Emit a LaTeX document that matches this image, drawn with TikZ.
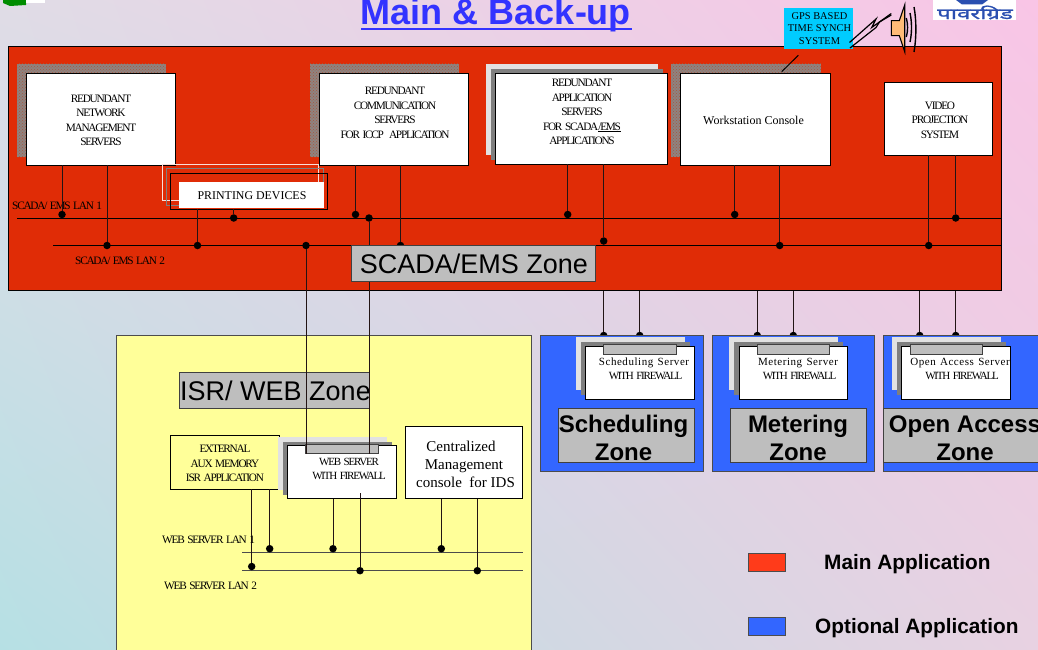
\documentclass[tikz,border=0pt]{standalone}
\usepackage{fontspec}
\usetikzlibrary{patterns,shadings}
\setmainfont{Liberation Serif}
\newfontfamily\tightf[LetterSpace=-11,WordSpace=1.6]{Liberation Serif}
\newfontfamily\loosef[LetterSpace=5,WordSpace=1.3]{Liberation Serif}
\newfontfamily\armf{Liberation Sans}
\newfontfamily\devaf[Script=Devanagari,FakeBold=1.2]{Noto Sans}
\definecolor{redz}{HTML}{E02C06}
\definecolor{bluez}{HTML}{3366FF}
\definecolor{yelz}{HTML}{FFFF99}
\definecolor{greyl}{HTML}{BEBEBE}
\definecolor{shadl}{HTML}{E2E2E2}
\definecolor{shadd}{HTML}{7F7F7F}
\definecolor{wirec}{HTML}{221414}
\definecolor{hatchb}{HTML}{8E8380}
\definecolor{hatchp}{HTML}{A8573F}
\definecolor{titlec}{HTML}{3333FF}
\definecolor{cyanz}{HTML}{00CCFF}
\definecolor{spk}{HTML}{FFBB77}
\definecolor{legr}{HTML}{FF3B1A}
\definecolor{logoc}{HTML}{2A4FB0}
\definecolor{bgul}{HTML}{E0DCE6}
\definecolor{bgur}{HTML}{F9C5E6}
\definecolor{bgll}{HTML}{B6E0E4}
\definecolor{bglr}{HTML}{E8D2E2}
\pgfdeclarelayer{bgl}
\pgfdeclarelayer{wires}
\pgfsetlayers{bgl,wires,main}
\tikzset{
 rbox/.style={draw=#1,line width=1pt,inner sep=0pt,outer sep=0pt,anchor=north west},
 rbox/.default={black},
 whitebox/.style={rbox,fill=white},
 hatchbox/.style={inner sep=0pt,outer sep=0pt,anchor=north west,fill=hatchb,postaction={pattern=crosshatch dots,pattern color=hatchp}},
 plainshade/.style={inner sep=0pt,outer sep=0pt,anchor=north west,fill=#1},
 greybox/.style={rbox={black!75},fill=greyl},
 wire/.style={draw=wirec,line width=1pt},
 lanline/.style={draw=black,line width=1pt},
 weblan/.style={draw=black!70,line width=1pt},
 dotn/.style={circle,fill=black,inner sep=0pt,minimum size=7.5pt,outer sep=0pt},
 tiny/.style={font=\tightf\fontsize{11.3}{14.5}\selectfont,align=center,text=black,inner sep=0pt},
 normt/.style={font=\fontsize{#1}{14.5}\selectfont,align=center,text=black,inner sep=0pt},
 fwt/.style={font=\tightf\fontsize{11}{14}\selectfont,align=center,text=black,inner sep=0pt},
 zonet/.style={font=\armf\fontsize{27}{30}\selectfont,text=black,inner sep=0pt},
 zoneb/.style={font=\armf\bfseries\fontsize{24}{28.5}\selectfont,align=center,text=black,inner sep=0pt},
 legt/.style={font=\armf\bfseries\fontsize{20.8}{24}\selectfont,text=black,inner sep=0pt},
}
\newcommand{\zbox}[6]{\node[#6,minimum width={(#4-#2)*1pt},minimum height={(#5-#3)*1pt}] (#1) at (#2,#3) {};}
\newcommand{\fwserver}[4]{%
 \node[plainshade=shadl,minimum width=108.6pt,minimum height=53pt] at ({#2-9.7},{#3-9.2}) {};
 \node[plainshade=shadd,minimum width=108.6pt,minimum height=53pt] at ({#2-4.7},{#3-4.2}) {};
 \node[whitebox,minimum width=108.6pt,minimum height=53pt] (#1) at (#2,#3) {};
 \node[greybox,minimum width=72.6pt,minimum height=9.6pt] (#1bar) at ({#2+#4},{#3-1.6}) {};
}
\newcommand{\dt}[3]{\node[dotn] (#1) at (#2,#3) {};}
\begin{document}
\begin{tikzpicture}[x=1pt,y=-1pt]
\useasboundingbox (0,0) rectangle (1038,650);
\clip (0,0) rectangle (1038,650);
\begin{pgfonlayer}{bgl}
\shade[upper left=bgul,upper right=bgur,lower left=bgll,lower right=bglr] (0,0) rectangle (1038,650);
\end{pgfonlayer}

% logo bits
\fill[green!55!black] (3,0) -- (26,0) -- (26,5) -- (10,6) -- (3,3) -- cycle;
\fill[white] (26,0) rectangle (45,3);
\node[inner sep=0pt,outer sep=0pt,anchor=north west,fill=white,minimum width=82.5pt,minimum height=20pt] (logo) at (933.3,0) {};
\node[inner sep=0pt,font=\devaf\fontsize{15}{15}\selectfont,text=logoc,xscale=1.6,transform shape] (logot) at (975,12.5) {पावरग्रिड};
\fill[logoc] (956,0) -- (988,0) -- (982,4.5) -- (962,4.5) -- cycle;

% title
\node[inner sep=0pt,anchor=base,font=\armf\bfseries\fontsize{36}{38}\selectfont,text=titlec] (title) at (496,25) {Main \& Back-up};
\draw[titlec,line width=2pt] (361,28.8) -- (631.5,28.8);

% main zone
\zbox{scada}{8}{47}{1001}{290}{rbox,fill=redz}

% hatch and layered shadows
\zbox{h1}{17}{64}{166}{157}{hatchbox}
\zbox{h2}{310}{64}{459}{157}{hatchbox}
\zbox{h4}{671}{64}{821}{157}{hatchbox}
\zbox{s3a}{486}{64}{658}{155}{plainshade=shadl}
\zbox{s3b}{491}{69}{663}{160}{plainshade=shadd}

% servers
\zbox{nms}{26}{74}{175}{165}{whitebox}
\zbox{comm}{319}{74}{468}{165}{whitebox}
\zbox{appl}{495}{73.5}{667}{164}{whitebox}
\zbox{wks}{680}{74}{830}{165}{whitebox}
\zbox{video}{884}{83}{992}{155}{whitebox}
\node[tiny] at (101,120.5) {REDUNDANT\\NETWORK\\MANAGEMENT\\SERVERS};
\node[tiny] at (395,113) {REDUNDANT\\COMMUNICATION\\SERVERS\\FOR ICCP\ \ APPLICATION};
\node[tiny] at (582,112) {REDUNDANT\\APPLICATION\\SERVERS\\FOR SCADA\underline{/EMS}\\APPLICATIONS};
\node[normt=12] at (753.5,120) {Workstation Console};
\node[tiny] at (940,120) {VIDEO\\PROJECTION\\SYSTEM};

% printer
\zbox{prA}{162}{164}{318}{200}{draw=white!85!redz,line width=0.9pt,inner sep=0pt,outer sep=0pt,anchor=north west}
\zbox{prB}{166}{168.5}{323}{205}{draw=shadd,line width=0.9pt,inner sep=0pt,outer sep=0pt,anchor=north west}
\zbox{prC}{170}{173}{327}{209}{draw=black,line width=1pt,inner sep=0pt,outer sep=0pt,anchor=north west}
\node[inner sep=0pt,outer sep=0pt,anchor=north west,fill=white,minimum width=145pt,minimum height=26pt] (prW) at (179,182) {};
\node[normt=11.9] at (252,196) {PRINTING DEVICES};

% LANs
\coordinate (lan1L) at (17,218); \coordinate (lan1R) at (1001,218);
\coordinate (lan2L) at (53,245.5); \coordinate (lan2R) at (1001,245.5);
\draw[lanline] (lan1L) -- (lan1R);
\draw[lanline] (lan2L) -- (lan2R);
\node[tiny,anchor=west] at (12,206) {SCADA/ EMS LAN 1};
\node[tiny,anchor=west] at (75,261) {SCADA/ EMS LAN 2};

% dots and connectors from servers
\dt{d1}{62}{214.5} \dt{d2}{107}{245.5} \dt{d3}{197.5}{245.5} \dt{d4}{233.7}{218}
\dt{d5}{355.5}{214.5} \dt{d6}{400.5}{245.5} \dt{d7}{369}{218} \dt{d8}{306}{245.5}
\dt{d9}{567.7}{214.5} \dt{d10}{603.7}{241} \dt{d11}{734.7}{214.5} \dt{d12}{779.7}{245.5}
\dt{d13}{928.7}{245.5} \dt{d14}{955.7}{218}
\draw[wire] (nms.south -| d1) -- (d1);
\draw[wire] (nms.south -| d2) -- (d2);
\draw[wire] (prC.south -| d3) -- (d3);
\draw[wire] (prC.south -| d4) -- (d4);
\draw[wire] (comm.south -| d5) -- (d5);
\draw[wire] (comm.south -| d6) -- (d6);
\draw[wire] (appl.south -| d9) -- (d9);
\draw[wire] (appl.south -| d10) -- (d10);
\draw[wire] (wks.south -| d11) -- (d11);
\draw[wire] (wks.south -| d12) -- (d12);
\draw[wire] (video.south -| d13) -- (d13);
\draw[wire] (video.south -| d14) -- (d14);

% ISR zone
\zbox{isr}{116.5}{335.7}{531.7}{660}{rbox={black!70},fill=yelz}
\zbox{isrl}{179.3}{372}{369}{408}{greybox}
\node[zonet,anchor=center] at (275.5,391) {ISR/ WEB Zone};
\zbox{aux}{170.3}{435.3}{279}{489.3}{rbox,fill=yelz}
\node[tiny] at (225,463.5) {EXTERNAL\\AUX MEMORY\\ISR\ APPLICATION};
\fwserver{web}{287.7}{445.7}{18}
\node[fwt] at (349,469) {WEB SERVER\\WITH FIREWALL};
\zbox{ids}{405}{426.3}{522.7}{498.7}{whitebox}
\node[normt=15,font=\fontsize{15}{18}\selectfont] at (465.5,464) {\hspace*{-9pt}Centralized\\\hspace*{-3pt}Management\\console\ \ for IDS};

\coordinate (wl1L) at (242.3,552.7); \coordinate (wl1R) at (522.7,552.7);
\coordinate (wl2L) at (242.3,570.7); \coordinate (wl2R) at (522.7,570.7);
\draw[weblan] (wl1L) -- (wl1R);
\draw[weblan] (wl2L) -- (wl2R);
\dt{w1}{251.7}{566.5} \dt{w2}{269.7}{548.7} \dt{w3}{333}{548.7} \dt{w4}{360}{570.7} \dt{w5}{441.3}{548.7} \dt{w6}{477.3}{570.7}
\draw[wire] (aux.south -| w1) -- (w1);
\draw[wire] (aux.south -| w2) -- (w2);
\draw[wire] (web.south -| w3) -- (w3);
\draw[wire] (web.south -| w4) ++(0,-5.4) -- (w4);
\draw[wire] (ids.south -| w5) -- (w5);
\draw[wire] (ids.south -| w6) -- (w6);
\node[tiny,anchor=west] at (162,540) {WEB SERVER LAN 1};
\node[tiny,anchor=west] at (164,586) {WEB SERVER LAN 2};

% links to ISR web server
\draw[wire] (d8) -- (d8 |- webbar.south);
\draw[wire] (d7) -- (d7 |- webbar.south);

% optional zones
\zbox{zs}{540.3}{335.7}{703.3}{471.3}{rbox={black!70},fill=bluez}
\zbox{zm}{712}{335.7}{874.7}{471.3}{rbox={black!70},fill=bluez}
\zbox{zo}{883.3}{335.7}{1050}{471.3}{rbox={black!70},fill=bluez}
\fwserver{ss}{585.7}{346.3}{18}
\fwserver{ms}{739}{346.3}{18.3}
\fwserver{os}{901.7}{346.3}{8.6}
\node[fwt] at (645.5,369) {\hspace*{-3pt}{\loosef Scheduling Server}\\WITH FIREWALL};
\node[fwt] at (799.5,369) {\hspace*{-3pt}{\loosef Metering Server}\\WITH FIREWALL};
\node[fwt] at (962,369) {\hspace*{-4pt}{\loosef Open Access Server}\\WITH FIREWALL};
\zbox{ls}{558.3}{408.3}{694.3}{462.7}{greybox}
\zbox{lm}{730}{408.3}{866}{462.7}{greybox}
\zbox{lo}{883.3}{408.3}{1050}{462.7}{greybox}
\node[zoneb] at (623.5,438) {Scheduling\\Zone};
\node[zoneb] at (798,438) {Metering\\Zone};
\node[zoneb] at (965,438) {Open Access\\Zone};

% links to optional zones, beneath the zone boxes
\begin{pgfonlayer}{wires}
\dt{e1}{603.7}{335.5} \dt{e2}{639.7}{335.5} \dt{e3}{757.3}{335.5} \dt{e4}{793.3}{335.5} \dt{e5}{919.7}{335.5} \dt{e6}{955.7}{335.5}
\draw[wire] (d10) -- (e1);
\draw[wire] (lan1L -| e2) -- (e2);
\draw[wire] (lan2L -| e3) -- (e3);
\draw[wire] (lan1L -| e4) -- (e4);
\draw[wire] (lan2L -| e5) -- (e5);
\draw[wire] (d14) -- (e6);
\end{pgfonlayer}

% scada label, above the lines that pass behind it
\zbox{scadal}{351.5}{245.7}{595}{281}{greybox}
\node[zonet] at (474,264) {SCADA/EMS Zone};

% GPS
\zbox{gps}{784}{8}{852.7}{48.7}{inner sep=0pt,outer sep=0pt,anchor=north west,fill=cyanz}
\node[normt=10.4,font=\fontsize{10.4}{12.6}\selectfont] at (819.5,28.5) {GPS BASED\\TIME SYNCH\\SYSTEM};
\coordinate (gl1) at (798.3,55.3); \coordinate (gl2) at (781.7,71.7);
\draw[black,line width=1pt] (gl1) -- (gl2);
\coordinate (spkL) at (891.3,13.5);
\draw[black,line width=1.2pt] (849.5,42.5) -- (876,19) -- (871.7,27.5) -- (spkL);
\draw[black,line width=1.2pt] (850,48) -- (876,27.5) -- (879.5,22) -- (891.3,15);
\draw[black,line width=1.1pt,fill=spk] (891.3,20.7) -- (899.3,20.7) -- (904.7,5) -- (904.7,51.7) -- (899.3,35.7) -- (891.3,35.7) -- cycle;
\draw[black,line width=1.4pt] (906.3,18) .. controls (908,24) and (908,31) .. (906.3,37);
\draw[black,line width=1.4pt] (910,13) .. controls (912,22) and (912,33) .. (910,42);
\draw[black,line width=1.4pt] (914,7) .. controls (916.5,20) and (916.5,38) .. (914,52);

% legend
\zbox{lg1}{748}{553}{785}{571}{rbox={black!70},fill=legr}
\zbox{lg2}{748}{617}{785}{635}{rbox={black!70},fill=bluez}
\node[legt,anchor=west] at (824,564) {Main Application};
\node[legt,anchor=west] at (815,628) {Optional Application};
\end{tikzpicture}
\end{document}
